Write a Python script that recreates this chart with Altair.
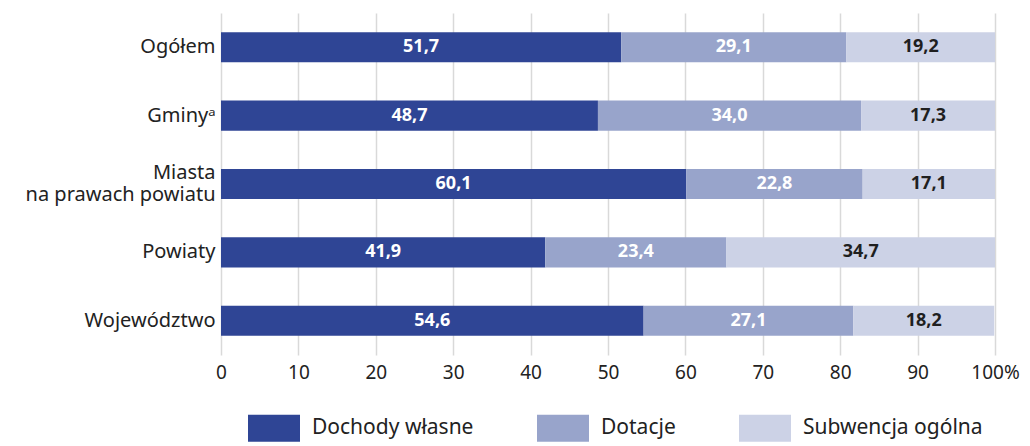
import altair as alt
import pandas as pd

categories = ["Ogółem", "Gminyᵃ", "Miasta|na prawach powiatu", "Powiaty", "Województwo"]
series = ["Dochody własne", "Dotacje", "Subwencja ogólna"]
dochody = [51.7, 48.7, 60.1, 41.9, 54.6]
dotacje = [29.1, 34.0, 22.8, 23.4, 27.1]
subwencja = [19.2, 17.3, 17.1, 34.7, 18.2]
colors = ["#2f4595", "#98a4cb", "#ccd2e6"]
text_colors = ["#ffffff", "#ffffff", "#1f1f1f"]

rows = []
for i, c in enumerate(categories):
    for j, (s, vals) in enumerate(zip(series, [dochody, dotacje, subwencja])):
        rows.append({"cat": c, "series": s, "value": vals[i], "order": j,
                     "label": f"{vals[i]:.1f}".replace(".", ","),
                     "tcolor": text_colors[j]})
df = pd.DataFrame(rows)

FONT = "Noto Sans"

base = alt.Chart(df).transform_stack(
    stack="value", groupby=["cat"], sort=[alt.SortField("order")], as_=["x0", "x1"]
).transform_calculate(mid="(datum.x0 + datum.x1) / 2")

yenc = alt.Y("cat:N", sort=categories, title=None,
             scale=alt.Scale(paddingInner=0.56, paddingOuter=0.28),
             axis=alt.Axis(labelExpr="split(datum.label, '|')", labelFontSize=20,
                           labelFont=FONT, labelColor="#222222", ticks=False, domain=False,
                           labelPadding=6, minExtent=210, maxExtent=210,
                           labelLineHeight=22, labelLimit=300,
                           labelOffset=alt.condition("indexof(datum.value, '|') >= 0",
                                                     alt.value(-11), alt.value(0))))

bars = base.mark_bar().encode(
    x=alt.X("x0:Q", scale=alt.Scale(domain=[0, 100], nice=False), title=None,
            axis=alt.Axis(values=list(range(0, 101, 10)), labelExpr="datum.value == 100 ? '100%' : datum.label",
                          grid=True, gridColor="#d9d9d9", gridWidth=1.5, ticks=False, domain=False,
                          labelFlush=False,
                          labelFontSize=19, labelFont=FONT, labelColor="#222222", labelPadding=8)),
    x2="x1:Q",
    y=yenc,
    color=alt.Color("series:N", sort=series,
                    scale=alt.Scale(domain=series, range=colors),
                    legend=alt.Legend(title=None, orient="none", legendX=27, legendY=389,
                                      direction="horizontal", symbolType="M-1,-0.52H1V0.52H-1Z",
                                      symbolSize=2704, symbolStrokeWidth=0, symbolOpacity=1,
                                      labelFontSize=21, labelFont=FONT, labelColor="#222222",
                                      labelLimit=400,
                                      labelOffset=12, columnPadding=63)),
    order=alt.Order("order:Q"),
)

texts = base.mark_text(fontSize=18, fontWeight="bold", font=FONT).encode(
    x=alt.X("mid:Q"),
    y=alt.Y("cat:N", sort=categories),
    text="label:N",
    color=alt.Color("tcolor:N", scale=None),
)

chart = alt.layer(bars, texts).properties(
    width=774, height=342,
    padding={"left": 3, "top": 5, "right": 0, "bottom": 0},
).configure_view(stroke=None)

chart.save("out.html", embed_options={"renderer": "svg", "actions": False})
